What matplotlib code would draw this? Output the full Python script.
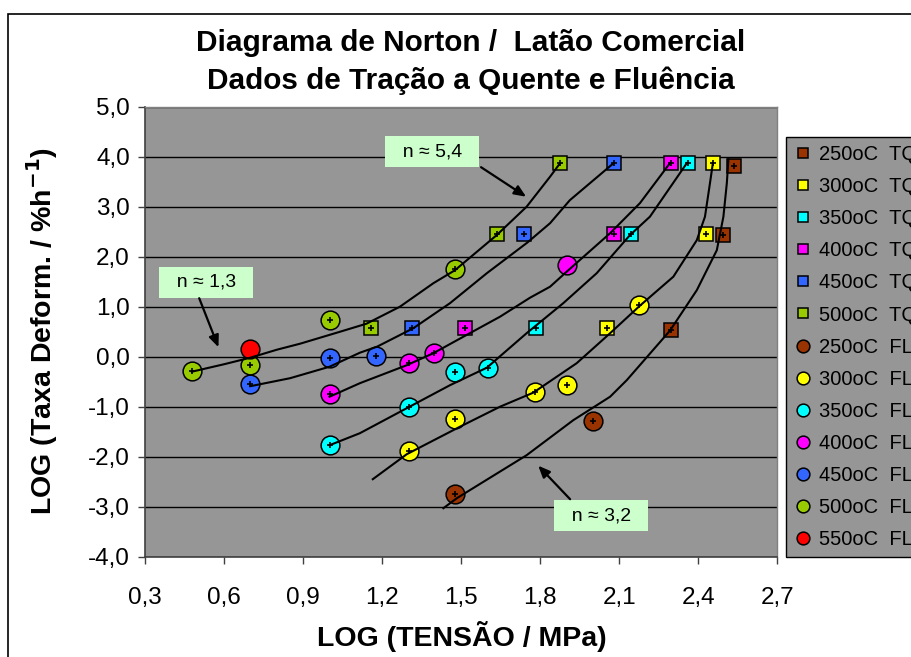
import matplotlib
matplotlib.use("Agg")
import matplotlib.pyplot as plt
from matplotlib.patches import Rectangle

plt.rcParams['font.family'] = ['Liberation Sans', 'DejaVu Sans']

# ---------------- data ----------------
temps = [250, 300, 350, 400, 450, 500, 550]
colors = {250: '#993300', 300: '#FFFF00', 350: '#00FFFF', 400: '#FF00FF',
          450: '#3366FF', 500: '#99CC00', 550: '#FF0000'}

# hot tensile (TQ) data: log(stress), log(rate)
tq_250_x = [2.296, 2.493, 2.537]
tq_250_y = [0.54, 2.43, 3.82]
tq_300_x = [2.052, 2.428, 2.457]
tq_300_y = [0.575, 2.46, 3.87]
tq_350_x = [1.783, 2.145, 2.361]
tq_350_y = [0.575, 2.46, 3.87]
tq_400_x = [1.514, 2.078, 2.296]
tq_400_y = [0.575, 2.46, 3.87]
tq_450_x = [1.311, 1.738, 2.078]
tq_450_y = [0.575, 2.46, 3.87]
tq_500_x = [1.158, 1.637, 1.875]
tq_500_y = [0.575, 2.46, 3.87]

# creep (FL) data
fl_250_x = [1.477, 2.000]
fl_250_y = [-2.75, -1.28]
fl_300_x = [1.301, 1.477, 1.778, 1.903, 2.176]
fl_300_y = [-1.89, -1.24, -0.70, -0.56, 1.04]
fl_350_x = [1.000, 1.301, 1.477, 1.602]
fl_350_y = [-1.77, -1.00, -0.31, -0.22]
fl_400_x = [1.000, 1.301, 1.398, 1.903]
fl_400_y = [-0.75, -0.12, 0.07, 1.83]
fl_450_x = [0.699, 1.000, 1.176]
fl_450_y = [-0.55, -0.02, 0.01]
fl_500_x = [0.477, 0.699, 1.000, 1.477]
fl_500_y = [-0.29, -0.17, 0.73, 1.75]
fl_550_x = [0.699]
fl_550_y = [0.16]
# points drawn without the small "+" marker
no_plus = [(1.903, 1.83), (0.699, 0.16)]

# fitted curves
fit_250_x = [1.432, 1.483, 1.60, 1.748, 1.925, 2.065, 2.128, 2.292, 2.394, 2.47, 2.495, 2.508, 2.514]
fit_250_y = [-3.03, -2.83, -2.45, -1.97, -1.27, -0.80, -0.47, 0.52, 1.33, 2.13, 2.80, 3.47, 3.95]
fit_300_x = [1.164, 1.293, 1.495, 1.647, 1.773, 1.938, 2.065, 2.178, 2.305, 2.394, 2.425, 2.444, 2.455]
fit_300_y = [-2.45, -1.95, -1.40, -1.00, -0.72, -0.13, 0.47, 1.02, 1.60, 2.33, 2.80, 3.47, 3.87]
fit_350_x = [1.000, 1.115, 1.293, 1.457, 1.597, 1.748, 1.887, 2.014, 2.140, 2.216, 2.356]
fit_350_y = [-1.77, -1.53, -1.03, -0.57, -0.22, 0.47, 1.07, 1.67, 2.43, 2.80, 3.87]
fit_400_x = [1.000, 1.115, 1.293, 1.394, 1.508, 1.647, 1.761, 1.837, 1.900, 2.065, 2.178, 2.292]
fit_400_y = [-0.80, -0.53, -0.17, 0.07, 0.40, 0.80, 1.18, 1.40, 1.70, 2.47, 3.07, 3.87]
fit_450_x = [0.699, 0.850, 1.000, 1.115, 1.180, 1.318, 1.457, 1.597, 1.750, 1.837, 1.912, 2.078]
fit_450_y = [-0.59, -0.43, -0.20, 0.08, 0.20, 0.57, 1.07, 1.67, 2.28, 2.67, 3.13, 3.87]
fit_500_x = [0.477, 0.600, 0.699, 0.800, 0.888, 1.040, 1.140, 1.267, 1.394, 1.476, 1.634, 1.748, 1.837, 1.875]
fit_500_y = [-0.30, -0.15, -0.02, 0.14, 0.26, 0.50, 0.66, 1.00, 1.47, 1.73, 2.43, 3.00, 3.60, 3.87]

x_ticks = [0.3, 0.6, 0.9, 1.2, 1.5, 1.8, 2.1, 2.4, 2.7]
y_ticks = [5.0, 4.0, 3.0, 2.0, 1.0, 0.0, -1.0, -2.0, -3.0, -4.0]

title = "Diagrama de Norton /  Latão Comercial\nDados de Tração a Quente e Fluência"
xlabel = "LOG (TENSÃO / MPa)"
ylabel = "LOG (Taxa Deform. / %h$^{\\mathbf{-1}}$)"

notes = [("n ≈ 5,4", (1.389, 4.10), (1.575, 3.79), (1.746, 3.20)),
         ("n ≈ 1,3", (0.531, 1.49), (0.505, 1.17), (0.578, 0.19)),
         ("n ≈ 3,2", (2.031, -3.18), (1.913, -2.85), (1.792, -2.18))]

tq = [(250, tq_250_x, tq_250_y), (300, tq_300_x, tq_300_y), (350, tq_350_x, tq_350_y),
      (400, tq_400_x, tq_400_y), (450, tq_450_x, tq_450_y), (500, tq_500_x, tq_500_y)]
fl = [(250, fl_250_x, fl_250_y), (300, fl_300_x, fl_300_y), (350, fl_350_x, fl_350_y),
      (400, fl_400_x, fl_400_y), (450, fl_450_x, fl_450_y), (500, fl_500_x, fl_500_y),
      (550, fl_550_x, fl_550_y)]
fits = [(fit_250_x, fit_250_y), (fit_300_x, fit_300_y), (fit_350_x, fit_350_y),
        (fit_400_x, fit_400_y), (fit_450_x, fit_450_y), (fit_500_x, fit_500_y)]

# ---------------- figure ----------------
W, H = 911, 657
fig = plt.figure(figsize=(W / 100, H / 100), dpi=100)
fig.patch.set_facecolor('white')

# outer chart frame
fig.patches.append(Rectangle((8 / W, -0.05), 1.1, 1 - 14 / H + 0.05, transform=fig.transFigure,
                             fill=False, edgecolor='black', lw=1.2))

ax_l, ax_r, ax_t, ax_b = 145.2, 777.4, 106.7, 556.7
ax = fig.add_axes([ax_l / W, 1 - ax_b / H, (ax_r - ax_l) / W, (ax_b - ax_t) / H])
ax.set_facecolor('#969696')
ax.set_xlim(0.3, 2.7)
ax.set_ylim(-4.0, 5.0)

for yv in y_ticks:
    ax.axhline(yv, color='black', lw=1.0, zorder=1)

handles = []
labels = []
for t, xs, ys in tq:
    h, = ax.plot(xs, ys, linestyle='none', marker='s', ms=9.8, mfc=colors[t], mec='black',
                 mew=1.1, zorder=3)
    handles.append(h)
    labels.append(f"{t}oC  TQ")
for t, xs, ys in fl:
    h, = ax.plot(xs, ys, linestyle='none', marker='o', ms=13.5, mfc=colors[t], mec='black',
                 mew=1.1, zorder=3)
    handles.append(h)
    labels.append(f"{t}oC  FL")

for fx, fy in fits:
    ax.plot(fx, fy, color='black', lw=1.5, zorder=4, solid_joinstyle='round')

px, py = [], []
for _, xs, ys in tq + fl:
    for x, y in zip(xs, ys):
        if (x, y) not in no_plus:
            px.append(x)
            py.append(y)
ax.plot(px, py, linestyle='none', marker='+', ms=5, mec='black', mew=1.2, zorder=5)

for txt, (bx, by), (tx, ty), (hx, hy) in notes:
    ax.text(bx, by, "  " + txt + "  ", ha='center', va='center', fontsize=14, zorder=6,
            bbox=dict(boxstyle='square,pad=0.35', facecolor='#CCFFCC', edgecolor='none'))
    ax.annotate("", xy=(hx, hy), xytext=(tx, ty), zorder=6,
                arrowprops=dict(arrowstyle='-|>,head_length=0.7,head_width=0.3',
                                color='black', lw=1.6, shrinkA=0, shrinkB=0))

ax.set_xticks(x_ticks)
ax.set_xticklabels([f"{v:.1f}".replace('.', ',') for v in x_ticks])
ax.set_yticks(y_ticks)
ax.set_yticklabels([f"{v:.1f}".replace('.', ',') for v in y_ticks])
ax.tick_params(axis='both', direction='out', length=5, width=1.0, labelsize=17.5,
               color='#404040', pad=6)
ax.tick_params(axis='x', pad=17)
for side in ['left', 'bottom']:
    ax.spines[side].set_color('#404040')
    ax.spines[side].set_linewidth(1.2)
for side in ['top', 'right']:
    ax.spines[side].set_color('#808080')
    ax.spines[side].set_linewidth(1.0)

fig.text(470.5 / W, 1 - 62 / H, title, ha='center', va='center', fontsize=21.4,
         fontweight='bold', linespacing=1.45)
fig.text(462 / W, 1 - 636 / H, xlabel, ha='center', va='center', fontsize=20.5,
         fontweight='bold')
fig.text(42 / W, 1 - 331 / H, ylabel, ha='center', va='center', fontsize=20.5,
         fontweight='bold', rotation=90)

leg = fig.legend(handles, labels, loc='upper left', bbox_to_anchor=(785.7 / W, 1 - 137 / H),
                 fontsize=14.5, frameon=True, fancybox=False, facecolor='#969696',
                 edgecolor='black', framealpha=1, handlelength=0.93, handletextpad=0.3,
                 labelspacing=0.65, borderpad=0.4, borderaxespad=0, markerscale=0.68)
leg.get_frame().set_linewidth(1.0)

fig.savefig("out.png", dpi=100)
